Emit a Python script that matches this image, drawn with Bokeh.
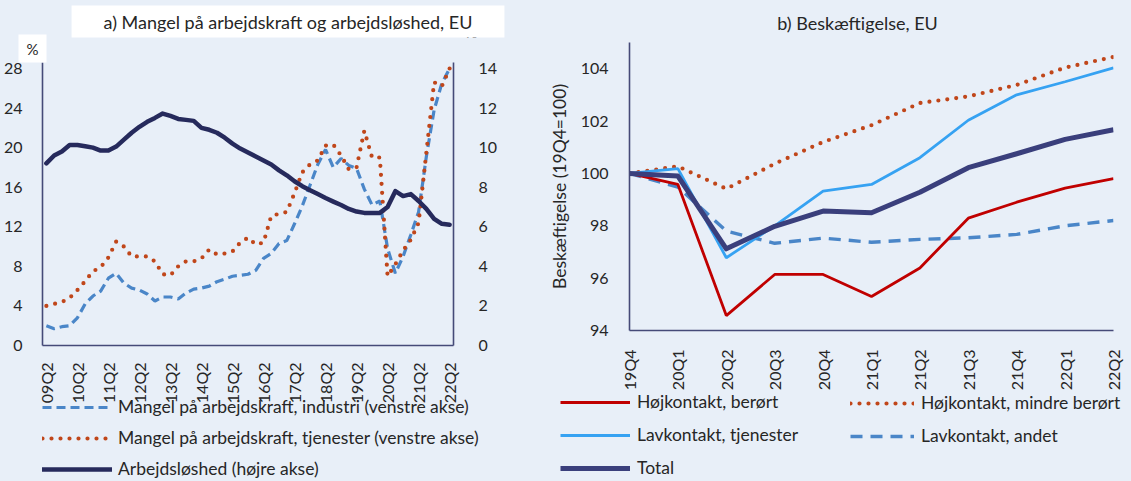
import math
from bokeh.plotting import figure
from bokeh.models import Range1d, LinearAxis, FixedTicker, Legend, LegendItem, Label
from bokeh.embed import file_html
from bokeh.resources import INLINE

# ---------------- data: panel a ----------------
quarters_a = [f"{y:02d}Q{q}" for y in range(9, 23) for q in range(1, 5)][1:54]  # 09Q2..22Q2
x_a = list(range(len(quarters_a)))

industri = [2.0, 1.7, 1.9, 2.0, 2.8, 4.2, 5.0, 5.5, 6.8, 7.3,
            6.3, 5.8, 5.6, 5.2, 4.5, 4.9, 4.9, 4.7, 5.3, 5.7,
            5.8, 6.0, 6.45, 6.7, 7.0, 7.1, 7.2, 7.6, 8.8, 9.3,
            10.3, 10.6, 12.3, 14.1, 16.2, 18.3, 19.8, 18.0, 18.9, 18.2,
            17.9, 15.8, 14.2, 14.6, 9.8, 7.3, 9.0, 11.2, 13.5, 19.1,
            23.8, 26.5, 28.0]
tjenester = [4.0, 4.2, 4.4, 4.8, 5.6, 6.5, 7.5, 7.9, 8.9, 10.5,
             10.0, 9.0, 9.0, 9.0, 8.5, 7.2, 7.1, 8.0, 8.5, 8.5,
             8.8, 9.7, 9.2, 9.3, 9.5, 10.4, 10.9, 10.2, 10.4, 13.1,
             13.3, 13.5, 15.4, 17.5, 18.3, 18.7, 20.2, 20.3, 19.2, 17.8,
             18.0, 21.7, 19.0, 19.0, 7.0, 8.2, 9.6, 10.7, 12.4, 19.5,
             26.6, 26.2, 28.0]
ledighed = [9.2, 9.6, 9.8, 10.13, 10.13, 10.07, 10.0, 9.85, 9.85, 10.05,
            10.4, 10.75, 11.05, 11.3, 11.5, 11.72, 11.6, 11.45, 11.4, 11.35,
            11.0, 10.9, 10.75, 10.5, 10.2, 9.95, 9.75, 9.55, 9.35, 9.15,
            8.85, 8.6, 8.3, 8.05, 7.85, 7.65, 7.45, 7.27, 7.1, 6.9,
            6.77, 6.7, 6.7, 6.7, 7.0, 7.8, 7.55, 7.65, 7.3, 6.9,
            6.4, 6.15, 6.1]
ticks_left = [0, 4, 8, 12, 16, 20, 24, 28]
ticks_right = [0, 2, 4, 6, 8, 10, 12, 14]

# ---------------- data: panel b ----------------
quarters_b = ["19Q4", "20Q1", "20Q2", "20Q3", "20Q4", "21Q1", "21Q2", "21Q3", "21Q4", "22Q1", "22Q2"]
x_b = list(range(len(quarters_b)))
hoj_beroert = [100, 99.58, 94.57, 96.14, 96.14, 95.3, 96.39, 98.29, 98.9, 99.44, 99.8]
hoj_mindre = [100, 100.27, 99.41, 100.37, 101.2, 101.84, 102.69, 102.94, 103.38, 104.04, 104.45]
lav_tjenester = [100, 100.18, 96.78, 98.0, 99.32, 99.58, 100.6, 102.03, 103.0, 103.5, 104.03]
lav_andet = [100, 99.48, 97.8, 97.33, 97.53, 97.37, 97.48, 97.54, 97.67, 98.0, 98.2]
total = [100, 99.9, 97.12, 97.98, 98.56, 98.5, 99.28, 100.22, 100.75, 101.3, 101.67]
ticks_b = [94, 96, 98, 100, 102, 104]

# ---------------- style ----------------
BG = "#E8EFF8"
FONT = "Lato"
TXT = "#262626"
AXC = "#454A78"
NAVY_A = "#262A5C"
NAVY_B = "#3A3F7C"
BLUE_D = "#4A86C8"
ORANGE = "#C0461A"
RED = "#C00000"
LBLUE = "#36A2F2"

STY = {
    "ind": dict(line_color=BLUE_D, line_width=3.2, line_dash="9 5"),
    "tj": dict(line_color=ORANGE, line_width=4.2, line_dash="0 9", line_cap="round"),
    "le": dict(line_color=NAVY_A, line_width=4.5, line_join="round", line_cap="round"),
    "andet": dict(line_color=BLUE_D, line_width=3.4, line_dash="12 8"),
    "ber": dict(line_color=RED, line_width=2.8),
    "mind": dict(line_color=ORANGE, line_width=4.2, line_dash="0 9", line_cap="round"),
    "tjen": dict(line_color=LBLUE, line_width=2.8),
    "tot": dict(line_color=NAVY_B, line_width=5, line_join="round"),
}


def style_axis(ax, ticks, standoff, overrides=None, orient=None):
    ax.ticker = FixedTicker(ticks=ticks)
    ax.major_tick_line_color = None
    ax.minor_tick_line_color = None
    ax.axis_line_color = AXC
    ax.axis_line_width = 1.6
    ax.major_label_text_font = FONT
    ax.major_label_text_font_size = "16px"
    ax.major_label_text_color = TXT
    ax.major_label_standoff = standoff
    if overrides:
        ax.major_label_overrides = overrides
    if orient is not None:
        ax.major_label_orientation = orient


def base_fig(name, **kw):
    p = figure(name=name, output_backend="svg", toolbar_location=None, **kw)
    p.title.visible = False
    p.background_fill_color = BG
    p.border_fill_color = BG
    p.outline_line_color = None
    p.xgrid.visible = False
    p.ygrid.visible = False
    return p


def style_legend(lg, gw, spacing, standoff):
    lg.glyph_width = gw
    lg.glyph_height = 20
    lg.label_height = 20
    lg.spacing = spacing
    lg.padding = 0
    lg.margin = 0
    lg.border_line_color = None
    lg.background_fill_alpha = 0
    lg.label_text_font = FONT
    lg.label_text_font_size = "17.5px"
    lg.label_text_color = TXT
    lg.label_standoff = standoff


# ================= panel a: chart (placed at page x=0, y=52) =================
pa = base_fig("pa", width=500, height=10 + 284 + 60, x_range=Range1d(-0.5, 52.5), y_range=Range1d(0, 28.6),
              min_border_left=41, min_border_right=46, min_border_top=10, min_border_bottom=60)
pa.extra_y_ranges = {"right": Range1d(0, 14.3)}
style_axis(pa.yaxis[0], ticks_left, 14)
style_axis(pa.xaxis[0], list(range(0, 53, 4)), 11,
           {i: quarters_a[i] for i in range(0, 53, 4)}, math.pi / 2)
rax = LinearAxis(y_range_name="right")
style_axis(rax, ticks_right, 19)
pa.add_layout(rax, "right")

pa.line(x_a, industri, **STY["ind"])
pa.line(x_a, tjenester, **STY["tj"])
pa.line(x_a, ledighed, y_range_name="right", **STY["le"])

# ================= panel b: chart (placed at page x=545, y=34) =================
pb = base_fig("pb", width=580, height=8 + 288 + 63, x_range=Range1d(0, 10), y_range=Range1d(94, 105),
              min_border_left=78, min_border_right=12, min_border_top=8, min_border_bottom=63)
style_axis(pb.yaxis[0], ticks_b, 15)
pb.yaxis[0].axis_label = "Beskæftigelse (19Q4=100)"
pb.yaxis[0].axis_label_text_font = FONT
pb.yaxis[0].axis_label_text_font_size = "17.5px"
pb.yaxis[0].axis_label_text_font_style = "normal"
pb.yaxis[0].axis_label_text_color = TXT
pb.yaxis[0].axis_label_standoff = 8
style_axis(pb.xaxis[0], x_b, 13, {i: q for i, q in enumerate(quarters_b)}, math.pi / 2)

pb.line(x_b, lav_andet, **STY["andet"])
pb.line(x_b, hoj_beroert, **STY["ber"])
pb.line(x_b, hoj_mindre, **STY["mind"])
pb.line(x_b, lav_tjenester, **STY["tjen"])
pb.line(x_b, total, **STY["tot"])

# ================= overlay: titles and legends (page coordinates) =================
OW, OH = 1130, 480
ov = figure(name="ov", output_backend="svg", toolbar_location=None, width=OW, height=OH,
            x_range=Range1d(0, OW), y_range=Range1d(OH, 0),
            x_axis_type=None, y_axis_type=None,
            min_border_left=0, min_border_right=0, min_border_top=0, min_border_bottom=0)
ov.title.visible = False
ov.background_fill_alpha = 0
ov.border_fill_alpha = 0
ov.outline_line_color = None
ov.xgrid.visible = False
ov.ygrid.visible = False

ov.add_layout(Label(x=471, y=31, text="%", text_font=FONT, text_font_size="15px",
                    text_color=TXT, text_align="center", text_baseline="middle"))
ov.add_layout(Label(x=287.5, y=21, text="a) Mangel på arbejdskraft og arbejdsløshed, EU",
                    text_font=FONT, text_font_size="18px", text_color=TXT,
                    text_align="center", text_baseline="middle",
                    background_fill_color="white",
                    padding=dict(left=32, right=32, top=5, bottom=5)))
ov.add_layout(Label(x=32, y=48, text="%", text_font=FONT, text_font_size="15px",
                    text_color=TXT, text_align="center", text_baseline="middle",
                    background_fill_color="white",
                    padding=dict(left=8, right=8, top=5, bottom=5)))
ov.add_layout(Label(x=857, y=22, text="b) Beskæftigelse, EU", text_font=FONT,
                    text_font_size="18px", text_color=TXT,
                    text_align="center", text_baseline="middle"))

nan = float("nan")
d_ind = ov.line([nan], [nan], **STY["ind"])
d_tj = ov.line([nan], [nan], **STY["tj"])
d_le = ov.line([nan], [nan], **STY["le"])
d_ber = ov.line([nan], [nan], **STY["ber"])
d_tjen = ov.line([nan], [nan], **STY["tjen"])
d_tot = ov.line([nan], [nan], **STY["tot"])
d_mind = ov.line([nan], [nan], **STY["mind"])
d_andet = ov.line([nan], [nan], **STY["andet"])

leg_a = Legend(items=[
    LegendItem(label="Mangel på arbejdskraft, industri (venstre akse)", renderers=[d_ind]),
    LegendItem(label="Mangel på arbejdskraft, tjenester (venstre akse)", renderers=[d_tj]),
    LegendItem(label="Arbejdsløshed (højre akse)", renderers=[d_le]),
], location=(42, OH - 479), orientation="vertical")
style_legend(leg_a, 70, 10, 6)
ov.add_layout(leg_a)

leg_b1 = Legend(items=[
    LegendItem(label="Højkontakt, berørt", renderers=[d_ber]),
    LegendItem(label="Lavkontakt, tjenester", renderers=[d_tjen]),
    LegendItem(label="Total", renderers=[d_tot]),
], location=(560, OH - 478), orientation="vertical")
style_legend(leg_b1, 70, 12, 7)
ov.add_layout(leg_b1)

leg_b2 = Legend(items=[
    LegendItem(label="Højkontakt, mindre berørt", renderers=[d_mind]),
    LegendItem(label="Lavkontakt, andet", renderers=[d_andet]),
], location=(850, OH - 446), orientation="vertical")
style_legend(leg_b2, 64, 12, 7)
ov.add_layout(leg_b2)

template = """
{% block preamble %}<style>
html, body { background: #E8EFF8; }
.abs { position: absolute; }
</style>{% endblock %}
{% block contents %}
<div class="abs" style="left:0px; top:52px;">{{ embed(roots.pa) }}</div>
<div class="abs" style="left:545px; top:34px;">{{ embed(roots.pb) }}</div>
<div class="abs" style="left:0px; top:0px;">{{ embed(roots.ov) }}</div>
{% endblock %}
"""
html = file_html([pa, pb, ov], INLINE, template=template)
open("out.html", "w").write(html)
